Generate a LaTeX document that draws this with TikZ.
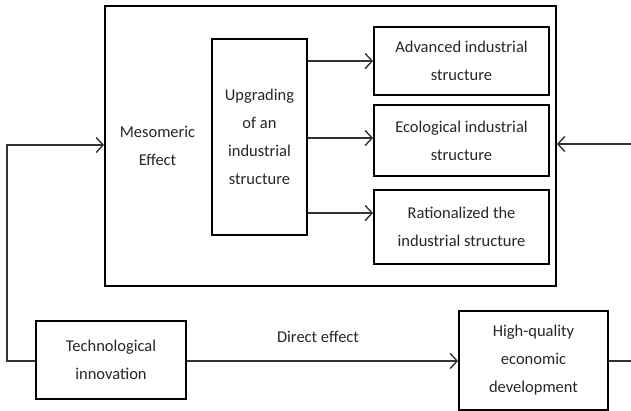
\documentclass[tikz,border=0pt]{standalone}
\usepackage{fontspec}
\setmainfont{Carlito}
\usetikzlibrary{arrows.meta}
\begin{document}
\begin{tikzpicture}[x=1pt,y=-1pt,
  box/.style={draw=black,line width=1.8pt,inner sep=0pt,align=center,
    font=\fontsize{16.5}{28}\selectfont,text=black!85},
  lbl/.style={inner sep=0pt,align=center,font=\fontsize{16.5}{28}\selectfont,text=black!85},
  conn/.style={draw=black!80,line width=1.4pt},
  arr/.style={conn,-{Straight Barb[length=7pt,width=15pt,line width=1.4pt]}}]
\useasboundingbox (0,0) rectangle (631,411);
\node[box,minimum width=451pt,minimum height=280pt] (meso) at (330.5,146) {};
\node[lbl] (mesotxt) at (157.5,146) {Mesomeric\\Effect};
\node[box,minimum width=95pt,minimum height=196pt] (upg) at (259.5,137) {Upgrading\\of an\\industrial\\structure};
\node[box,minimum width=175pt,minimum height=68pt] (adv) at (461.5,61) {Advanced industrial\\structure};
\node[box,minimum width=175pt,minimum height=71pt] (eco) at (461.5,140.5) {Ecological industrial\\structure};
\node[box,minimum width=175pt,minimum height=74pt] (rat) at (461.5,227) {Rationalized the\\industrial structure};
\node[box,minimum width=150pt,minimum height=78pt] (tech) at (111,360) {Technological\\innovation};
\node[box,minimum width=149pt,minimum height=99pt] (hq) at (533.5,360.5) {High-quality\\economic\\development};
\node[lbl] (direct) at (318,337) {Direct effect};
\draw[arr] (upg.east |- 0,61) -- (adv.west |- 0,61);
\draw[arr] (upg.east |- 0,138) -- (eco.west |- 0,138);
\draw[arr] (upg.east |- 0,213) -- (rat.west |- 0,213);
\draw[arr] (tech.east |- 0,361) -- (hq.west |- 0,361);
\coordinate (lcorner) at (7,145);
\draw[arr] (tech.west |- 0,361) -| (lcorner) -- (meso.west |- lcorner);
\coordinate (rin) at (632,144);
\draw[arr] (rin) -- (meso.east |- rin);
\coordinate (rout) at (632,361);
\draw[conn] (hq.east |- rout) -- (rout);
\end{tikzpicture}
\end{document}
